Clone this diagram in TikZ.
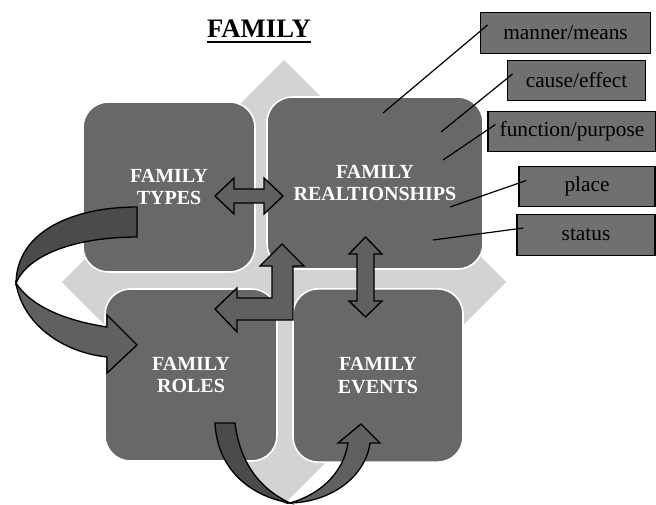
\documentclass[tikz,border=0pt]{standalone}
\usepackage{fontspec}
\setmainfont{Liberation Serif}
\usetikzlibrary{calc}

\definecolor{boxgray}{HTML}{686868}
\definecolor{bandgray}{HTML}{D3D3D3}
\definecolor{arrowgray}{HTML}{606060}
\definecolor{ribbondark}{HTML}{4B4B4B}
\definecolor{taggray}{HTML}{707070}

\begin{document}
\begin{tikzpicture}[x=0.75pt,y=-0.75pt,
  bigbox/.style={rounded corners=19pt,fill=boxgray,draw=white,line width=1.2pt,
    text=white,align=center,font=\fontsize{15}{17}\selectfont\bfseries},
  tagbox/.style={fill=taggray,draw=black,line width=0.9pt,inner sep=0pt,
    minimum height=30.5pt,font=\fontsize{16}{18}\selectfont},
  tagline/.style={line width=0.9pt},
  blockarrow/.style={fill=arrowgray,draw=black,line width=1pt,line join=miter}]
\useasboundingbox (0,0) rectangle (656,504);
% 背景菱形
\fill[bandgray] (284,60) -- (506,282) -- (284,504) -- (62,282) -- cycle;
% 四个方块
\node[bigbox,minimum width=129pt,minimum height=127.5pt] (types) at (169,187) {FAMILY\\TYPES};
\node[bigbox,minimum width=162pt,minimum height=129pt] (relations) at (375,183) {FAMILY\\REALTIONSHIPS};
\node[bigbox,minimum width=129pt,minimum height=129pt] (roles) at (191,375) {FAMILY\\ROLES};
\node[bigbox,minimum width=127.5pt,minimum height=130pt] (events) at (378,375.5) {FAMILY\\EVENTS};
% 标题
\node[inner sep=0pt,anchor=base,font=\fontsize{20}{24}\selectfont\bfseries] (title) at (259,37) {FAMILY};
\draw[line width=1.5pt] ([yshift=-4pt]title.base west) -- ([yshift=-4pt]title.base east);
% 左侧弯箭头（类型 -> 角色）
\filldraw[fill=ribbondark,draw=black,line width=1pt]
  (137,207) .. controls (75,207) and (17,230) .. (16,283)
  .. controls (28,255) and (75,237) .. (137,237) -- cycle;
\filldraw[blockarrow]
  (16,283) .. controls (22,322) and (60,352) .. (107,357)
  -- (107,373) -- (137,345) -- (107,315) -- (107,327)
  .. controls (62,320) and (30,305) .. (16,283) -- cycle;
% 底部 U 形箭头（角色 -> 事件）
\filldraw[fill=ribbondark,draw=black,line width=1pt]
  (215,423) .. controls (217,465) and (245,495) .. (290,503)
  .. controls (262,490) and (240,465) .. (235,423) -- cycle;
\filldraw[blockarrow]
  (290,503) .. controls (330,502) and (365,478) .. (370,443)
  -- (380,443) -- (361,424) -- (338,443) -- (348,443)
  .. controls (343,475) and (318,495) .. (290,503) -- cycle;
% 双向箭头
\filldraw[blockarrow] (215,196) -- (234,178) -- (234,189) -- (264,189) -- (264,178)
  -- (283,196) -- (264,214) -- (264,203) -- (234,203) -- (234,214) -- cycle;
\filldraw[blockarrow] (365.5,237) -- (382,254) -- (374,254) -- (374,301) -- (382,301)
  -- (365.5,317) -- (349,301) -- (357,301) -- (357,254) -- (349,254) -- cycle;
% 左上折角箭头
\filldraw[blockarrow] (282,244) -- (304,266) -- (293,266) -- (293,320) -- (237,320)
  -- (237,332) -- (215,309) -- (237,288) -- (237,298) -- (272,298) -- (272,266)
  -- (260,266) -- cycle;
% 右侧标签
\node[tagbox,minimum width=128pt] (manner) at (565.5,33) {manner/means};
\node[tagbox,minimum width=104pt] (cause) at (576.5,80.5) {cause/effect};
\node[tagbox,minimum width=126pt] (function) at (572,131.5) {function/purpose};
\node[tagbox,minimum width=102pt] (place) at (587,186.5) {place};
\node[tagbox,minimum width=103.5pt] (status) at (586,235) {status};
% 连线
\coordinate (mmEnd) at (383,113);
\coordinate (ceEnd) at (441,132);
\coordinate (fpEnd) at (443,160);
\coordinate (plEnd) at (450,207);
\coordinate (stEnd) at (433,240);
\draw[tagline] (mmEnd) -- ($(manner.west)+(8,-8)$);
\draw[tagline] (ceEnd) -- ($(cause.west)+(6,-6.5)$);
\draw[tagline] (fpEnd) -- ($(function.west)+(8,-7)$);
\draw[tagline] (plEnd) -- ($(place.west)+(8,-6)$);
\draw[tagline] (stEnd) -- ($(status.west)+(7,-7)$);
\end{tikzpicture}
\end{document}
